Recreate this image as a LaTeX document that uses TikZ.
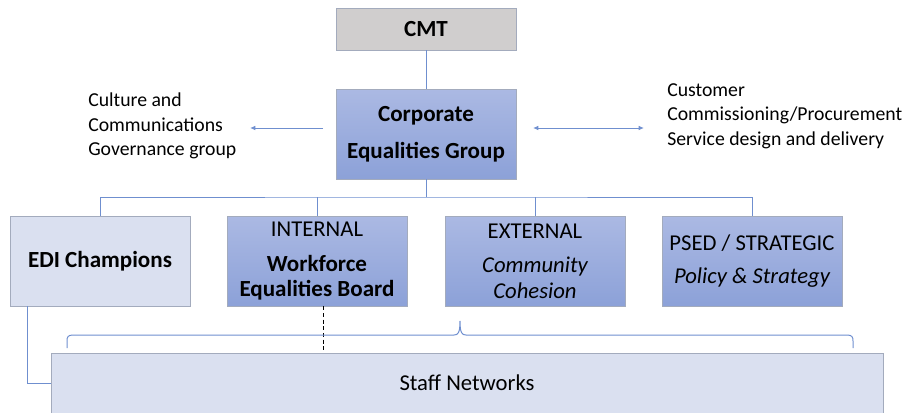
\documentclass[tikz,border=0pt]{standalone}
\usepackage{fontspec}
\setmainfont{Carlito}
\usetikzlibrary{arrows.meta}
\definecolor{linec}{HTML}{6F8FCF}
\definecolor{boxtop}{HTML}{ABB9E3}
\definecolor{boxbot}{HTML}{8CA1D8}
\definecolor{lightbox}{HTML}{DAE0F0}
\definecolor{cmtfill}{HTML}{D0CECE}
\definecolor{edge}{HTML}{A3ABBD}
\tikzset{
  every node/.style={font=\fontsize{17}{19}\selectfont, align=center, inner sep=0pt},
  bluebox/.style={draw=edge, line width=0.6pt, top color=boxtop, bottom color=boxbot, minimum width=135pt, minimum height=67.5pt},
  litebox/.style={draw=edge, line width=0.6pt, fill=lightbox, minimum width=135pt, minimum height=67.5pt},
  conn/.style={draw=linec, line width=0.75pt},
  plain/.style={align=left, anchor=west, font=\fontsize{14.8}{18.3}\selectfont}
}
\newcommand{\bft}{\bfseries\fontsize{17.3}{19}\selectfont}
\begin{document}
\begin{tikzpicture}[x=0.75pt, y=-0.75pt]
\useasboundingbox (0,0) rectangle (908,412);
\clip (0,0) rectangle (908,412);
\node[draw=edge, line width=0.6pt, fill=cmtfill, minimum width=135pt, minimum height=31.5pt, font=\bft] (cmt) at (426,29) {CMT};
\node[bluebox, font=\bfseries\fontsize{17.3}{27.5}\selectfont] (ceg) at (426,134) {Corporate\\Equalities Group};
\node[litebox, font=\bft] (edi) at (100,261) {EDI Champions};
\node[bluebox] (int) at (317,261) {INTERNAL\\[7pt]{\bft Workforce}\\{\bft Equalities Board}};
\node[bluebox] (ext) at (535,261) {EXTERNAL\\[7pt]\itshape Community\\\itshape Cohesion};
\node[bluebox] (psed) at (752,261) {PSED / STRATEGIC\\[6pt]\itshape Policy \& Strategy};
\node[litebox, minimum width=624pt, minimum height=50pt, anchor=north west] (staff) at (51,353) {};
\node (stafftxt) at (467,383) {Staff Networks};
\node[plain] (cult) at (88,126) {Culture and\\Communications\\Governance group};
\node[plain] (cust) at (667,116) {Customer\\Commissioning/Procurement\\Service design and delivery};
% connectors
\draw[conn] (cmt.south) -- (ceg.north);
\coordinate (bus) at (426,197);
\draw[conn] (ceg.south) -- (bus);
\draw[conn] (edi.north) |- (bus) -| (psed.north);
\draw[conn] (int.north) -- (int.north |- bus);
\draw[conn] (ext.north) -- (ext.north |- bus);
\coordinate (la) at (323,128);
\coordinate (lb) at (250,128);
\draw[conn, -{Latex[length=4pt,width=3.5pt]}] (la) -- (lb);
\coordinate (ra) at (533,128);
\coordinate (rb) at (644,128);
\draw[conn, {Latex[length=4pt,width=3.5pt]}-{Latex[length=4pt,width=3.5pt]}] (ra) -- (rb);
\draw[conn] (edi.south west) ++(18,0) |- (staff.west |- 0,383);
\draw[black, line width=0.75pt, dash pattern=on 3pt off 2pt] (int.south) ++(6,0) -- ++(0,44);
% brace
\coordinate (brl) at (67,348);
\coordinate (brr) at (853,348);
\coordinate (brt) at (460,321);
\draw[conn] (brl) -- ++(0,-7) .. controls +(0,-4) and (68,335) .. (73,335)
  -- (454,335) .. controls (458,335) and (460,333) .. (brt)
  .. controls (460,333) and (462,335) .. (466,335) -- (847,335)
  .. controls (852,335) and (853,337) .. (853,341) -- (brr);
\end{tikzpicture}
\end{document}
